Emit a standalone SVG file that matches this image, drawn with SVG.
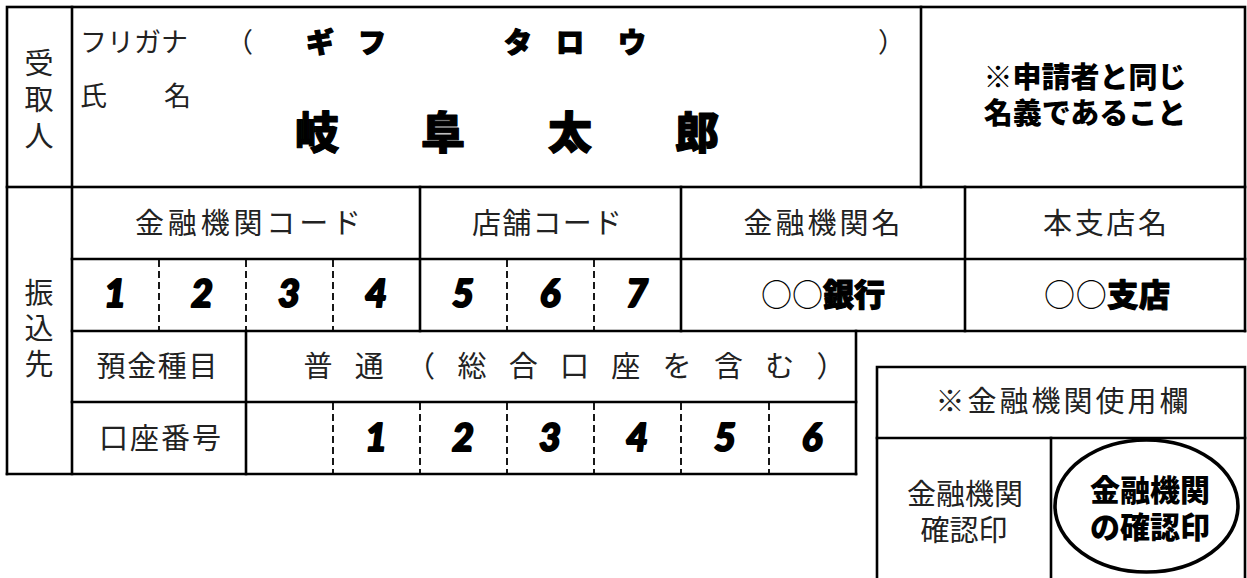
<svg xmlns="http://www.w3.org/2000/svg" width="1247" height="578" viewBox="0 0 1247 578">
<style>
  .ln{stroke:#000;stroke-width:2.6;fill:none;stroke-linecap:square}
  .dl{stroke:#000;stroke-width:1.8;fill:none;stroke-dasharray:7,4}
  .lb{font-family:"Noto Sans CJK JP","Noto Sans CJK SC",sans-serif;font-size:29px;fill:#222;text-anchor:middle}
  .lbl{font-family:"Noto Sans CJK JP","Noto Sans CJK SC",sans-serif;font-size:27px;fill:#222}
  .bd{font-family:"Noto Sans CJK JP","Noto Sans CJK SC",sans-serif;font-weight:900;fill:#000;text-anchor:middle}
  .pop{stroke:#000;stroke-width:1.2;stroke-linejoin:round}
  .dg{font-family:Lato,"Liberation Sans","DejaVu Sans",sans-serif;font-weight:900;font-style:italic;font-size:38px;fill:#000;text-anchor:middle;stroke:#000;stroke-width:2;stroke-linejoin:round}
</style>
<rect width="1247" height="578" fill="#fff"/>
<g id="connectors">
  <rect class="ln" x="7" y="7" width="1238" height="180"/>
  <line class="ln" x1="921" y1="7" x2="921" y2="187"/>
  <line class="ln" x1="72" y1="7" x2="72" y2="474"/>
  <line class="ln" x1="7" y1="187" x2="7" y2="474"/>
  <line class="ln" x1="7" y1="474" x2="856" y2="474"/>
  <line class="ln" x1="1245" y1="187" x2="1245" y2="331"/>
  <line class="ln" x1="72" y1="259" x2="1245" y2="259"/>
  <line class="ln" x1="72" y1="331" x2="1245" y2="331"/>
  <line class="ln" x1="72" y1="402" x2="856" y2="402"/>
  <line class="ln" x1="856" y1="331" x2="856" y2="474"/>
  <line class="ln" x1="420" y1="187" x2="420" y2="331"/>
  <line class="ln" x1="681" y1="187" x2="681" y2="331"/>
  <line class="ln" x1="965" y1="187" x2="965" y2="331"/>
  <line class="ln" x1="246" y1="331" x2="246" y2="474"/>
  <line class="dl" x1="159" y1="260" x2="159" y2="330"/>
  <line class="dl" x1="246" y1="260" x2="246" y2="330"/>
  <line class="dl" x1="333" y1="260" x2="333" y2="330"/>
  <line class="dl" x1="507" y1="260" x2="507" y2="330"/>
  <line class="dl" x1="594" y1="260" x2="594" y2="330"/>
  <line class="dl" x1="333" y1="403" x2="333" y2="473"/>
  <line class="dl" x1="420" y1="403" x2="420" y2="473"/>
  <line class="dl" x1="507" y1="403" x2="507" y2="473"/>
  <line class="dl" x1="594" y1="403" x2="594" y2="473"/>
  <line class="dl" x1="681" y1="403" x2="681" y2="473"/>
  <line class="dl" x1="769" y1="403" x2="769" y2="473"/>
  <path class="ln" d="M877 580 V367 H1245 V580"/>
  <line class="ln" x1="877" y1="438" x2="1245" y2="438"/>
  <line class="ln" x1="1051" y1="438" x2="1051" y2="580"/>
</g>
<g id="recipient">
  <text class="lb" font-size="28"><tspan x="39" y="74">受</tspan><tspan x="39" y="110">取</tspan><tspan x="39" y="147">人</tspan></text>
  <text class="lbl" x="80" y="52" textLength="108" lengthAdjust="spacing">フリガナ</text>
  <text class="lbl" x="226" y="52">（</text>
  <text class="lbl" x="878" y="52">）</text>
  <text class="bd pop" font-size="28" x="320 372 518 570 632" y="53">ギフタロウ</text>
  <text class="lbl" font-size="28" x="80" y="106">氏</text>
  <text class="lbl" font-size="28" x="164" y="106">名</text>
  <text class="bd pop" font-size="44" x="317 443 570 697" y="149">岐阜太郎</text>
</g>
<g id="note">
  <text class="bd" font-size="29"><tspan x="1085" y="88">※申請者と同じ</tspan><tspan x="1085" y="124">名義であること</tspan></text>
</g>
<g id="transfer">
  <text class="lb" font-size="28"><tspan x="39" y="304">振</tspan><tspan x="39" y="339">込</tspan><tspan x="39" y="375">先</tspan></text>
</g>
<g id="headers">
  <text class="lb" x="248" y="234" textLength="226" lengthAdjust="spacing">金融機関コード</text>
  <text class="lb" x="547" y="234" textLength="150" lengthAdjust="spacing">店舗コード</text>
  <text class="lb" x="822" y="234" textLength="157" lengthAdjust="spacing">金融機関名</text>
  <text class="lb" x="1105" y="234" textLength="124" lengthAdjust="spacing">本支店名</text>
</g>
<g id="codes">
  <text class="dg" x="115 202 289 376 463 550 637" y="307">1234567</text>
  <text class="bd" font-size="31" x="823" y="306" textLength="124" lengthAdjust="spacing"><tspan font-weight="400">○○</tspan><tspan class="pop">銀行</tspan></text>
  <text class="bd" font-size="31" x="1107" y="306" textLength="126" lengthAdjust="spacing"><tspan font-weight="400">○○</tspan><tspan class="pop">支店</tspan></text>
</g>
<g id="deposit-type">
  <text class="lb" x="157" y="377" textLength="121" lengthAdjust="spacing">預金種目</text>
  <text class="lb" x="318 369.3 420.6 471.9 523.2 574.5 625.8 677.1 728.4 779.7 831" y="377">普通（総合口座を含む）</text>
</g>
<g id="account">
  <text class="lb" x="160" y="449" textLength="122" lengthAdjust="spacing">口座番号</text>
  <text class="dg" x="376 463 550 637 725 812" y="451">123456</text>
</g>
<g id="bank-use">
  <text class="lb" x="1062" y="412" textLength="253" lengthAdjust="spacing">※金融機関使用欄</text>
  <text class="lb"><tspan x="965" y="505">金融機関</tspan><tspan x="964" y="541">確認印</tspan></text>
  <ellipse cx="1146.5" cy="506" rx="91.5" ry="66" fill="none" stroke="#000" stroke-width="3.6"/>
  <text class="bd" font-size="30"><tspan x="1150" y="501">金融機関</tspan><tspan x="1150" y="538">の確認印</tspan></text>
</g>
</svg>
